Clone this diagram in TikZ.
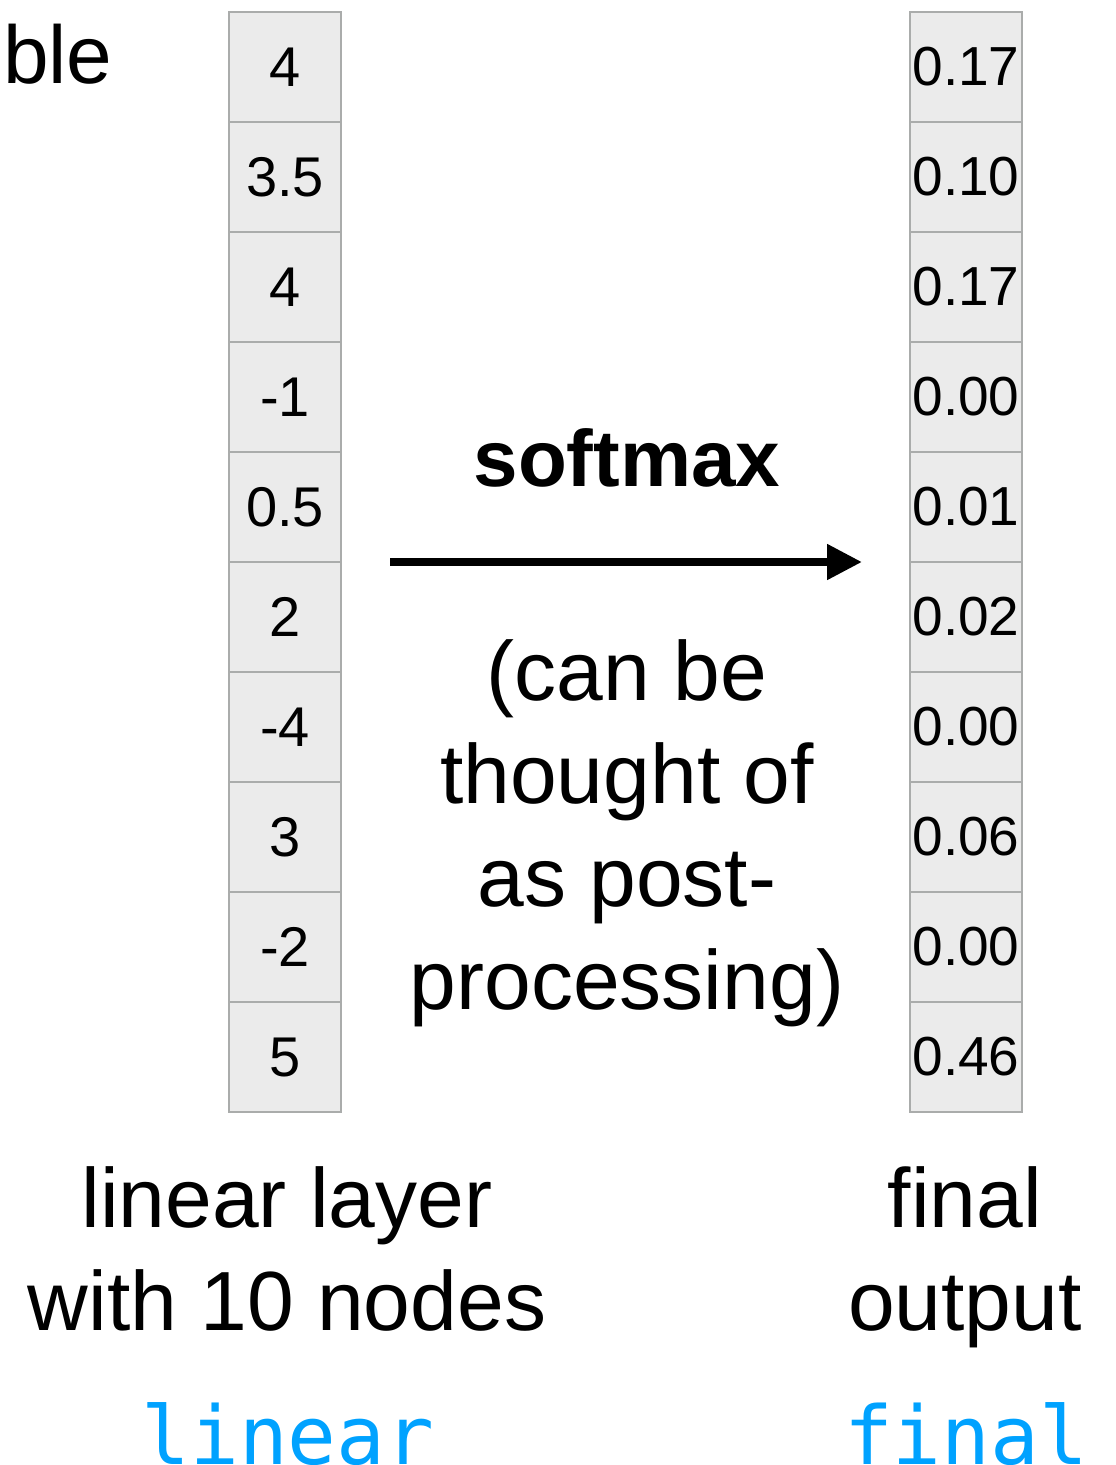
\documentclass[tikz,border=0pt]{standalone}
\usepackage{fontspec}
\setmainfont{Liberation Sans}
\newfontfamily\monofont{DejaVu Sans Mono}
\usetikzlibrary{arrows.meta}

\definecolor{cellfill}{RGB}{235,235,235}
\definecolor{cellline}{RGB}{170,172,171}
\definecolor{codeblue}{RGB}{0,162,255}

\tikzset{
  cell/.style={draw=cellline, fill=cellfill, line width=2.5pt,
    minimum width=112pt, minimum height=110pt, inner sep=0pt, outer sep=0pt},
  lefttxt/.style={font=\fontsize{56}{60}\selectfont},
  righttxt/.style={font=\fontsize{55}{60}\selectfont},
  label/.style={anchor=base, inner sep=0pt, font=\fontsize{84}{100}\selectfont},
  codelabel/.style={anchor=base, inner sep=0pt, text=codeblue,
    font=\monofont\fontsize{81}{90}\selectfont},
  flow/.style={line width=8pt, -{Triangle[length=35pt, width=34pt]}}
}

\begin{document}
\begin{tikzpicture}[x=1pt, y=-1pt]
  \useasboundingbox (0,0) rectangle (1116,1465);

  % column of linear-layer values
  \foreach \v [count=\i] in {4,3.5,4,-1,0.5,2,-4,3,-2,5} {
    \node[cell, lefttxt] (l\i) at (285, {67+110*(\i-1)}) {\v};
  }

  % column of softmax outputs
  \foreach \v [count=\i] in {0.17,0.10,0.17,0.00,0.01,0.02,0.00,0.06,0.00,0.46} {
    \node[cell, righttxt] (r\i) at (966, {67+110*(\i-1)}) {\v};
  }

  % truncated word at the top left
  \node[anchor=base west, inner sep=0pt, font=\fontsize{82}{90}\selectfont]
    (ble) at (3,83) {ble};

  % softmax arrow and its captions
  \node[anchor=base, inner sep=0pt, font=\bfseries\fontsize{80}{90}\selectfont]
    (sm) at (627,486) {softmax};
  \draw[flow] ([xshift=49pt]l5.south east) -- ([xshift=-48pt]r5.south west);

  \node[label] (c1) at (627,700)  {(can be};
  \node[label] (c2) at (627,803)  {thought of};
  \node[label] (c3) at (627,906)  {as post-};
  \node[label] (c4) at (627,1009) {processing)};

  % captions under the columns
  \node[label] (ll1) at (287,1227) {linear layer};
  \node[label] (ll2) at (287,1330) {with 10 nodes};
  \node[label] (fl1) at (965,1227) {final};
  \node[label] (fl2) at (965,1330) {output};

  % variable names
  \node[codelabel] (vl) at (288,1464) {linear};
  \node[codelabel] (vf) at (966,1464) {final};
\end{tikzpicture}
\end{document}
